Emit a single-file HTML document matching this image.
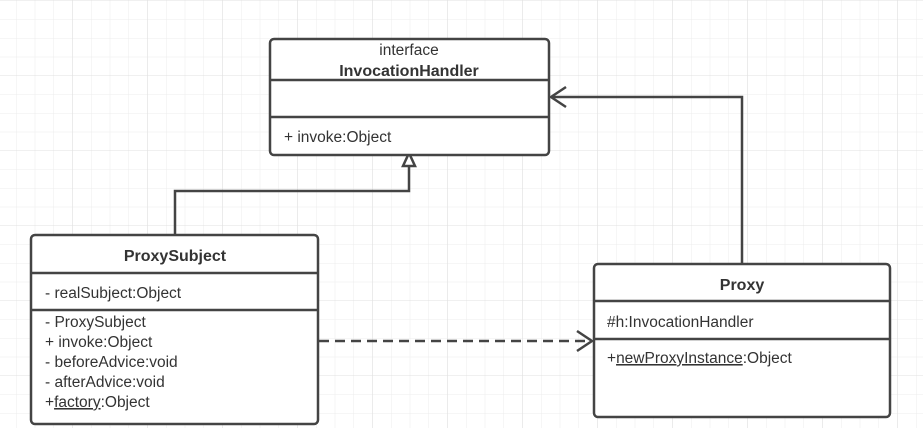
<!DOCTYPE html>
<html><head><style>
body{margin:0;width:923px;height:428px;overflow:hidden;background:#fff;font-family:"Liberation Sans",sans-serif;}
</style></head><body>
<svg width="923" height="428" xmlns="http://www.w3.org/2000/svg">
<defs>
<pattern id="g" x="16" y="0.5" width="18.75" height="18.75" patternUnits="userSpaceOnUse">
<path d="M0 0V18.75M0 0H18.75" stroke="#ececec" stroke-width="1" fill="none"/>
</pattern>
<pattern id="G" x="72.5" y="0.5" width="75" height="75" patternUnits="userSpaceOnUse">
<path d="M0 0V75M0 0H75" stroke="#e0e0e0" stroke-width="1" fill="none"/>
</pattern>
</defs>
<rect width="923" height="428" fill="url(#g)"/>
<rect width="923" height="428" fill="url(#G)"/>
<g stroke="#444" stroke-width="2.5" fill="none">
<path d="M175 235V191H409V165"/>
<path d="M409 153L403 166H415Z" fill="#fff"/>
<path d="M742 264V97H551"/>
<path d="M566 87L551 97L566 107"/>
<path d="M319 341H592" stroke-dasharray="10,6"/>
<path d="M577 331L592 341L577 351"/>
</g>
<g stroke="#444" stroke-width="2.5" fill="#fff">
<rect x="270" y="39" width="279" height="116" rx="4"/>
<path d="M270 80H549M270 117H549"/>
<rect x="31" y="235" width="287" height="189" rx="4"/>
<path d="M31 273H318M31 310H318"/>
<rect x="594" y="264" width="296" height="153" rx="4"/>
<path d="M594 301H890M594 339H890"/>
</g>
<g font-size="15.5" fill="#333">
<text x="409" y="55" text-anchor="middle">interface</text>
<text x="409" y="76" text-anchor="middle" font-weight="bold" font-size="16">InvocationHandler</text>
<text x="284" y="142">+ invoke:Object</text>
<text x="175" y="261" text-anchor="middle" font-weight="bold" font-size="16">ProxySubject</text>
<text x="45" y="298">- realSubject:Object</text>
<text x="45" y="327">- ProxySubject</text>
<text x="45" y="347">+ invoke:Object</text>
<text x="45" y="367">- beforeAdvice:void</text>
<text x="45" y="387">- afterAdvice:void</text>
<text x="45" y="407">+<tspan text-decoration="underline">factory</tspan>:Object</text>
<text x="742" y="290" text-anchor="middle" font-weight="bold" font-size="16">Proxy</text>
<text x="607" y="327">#h:InvocationHandler</text>
<text x="607" y="363">+<tspan text-decoration="underline">newProxyInstance</tspan>:Object</text>
</g>
</svg>
</body></html>
